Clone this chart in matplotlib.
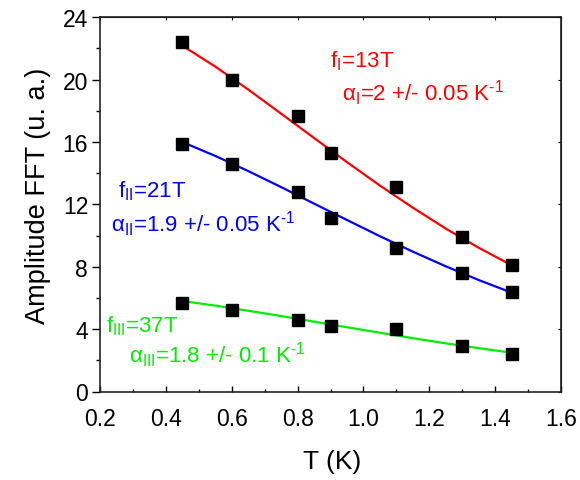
import matplotlib
matplotlib.use("Agg")
import matplotlib.pyplot as plt
from matplotlib.ticker import MultipleLocator

plt.rcParams['font.family'] = ['Liberation Sans', 'DejaVu Sans']
plt.rcParams['mathtext.fontset'] = 'custom'
plt.rcParams['mathtext.rm'] = 'Liberation Sans'
plt.rcParams['mathtext.it'] = 'Liberation Sans'

T = [0.45, 0.6, 0.8, 0.9, 1.1, 1.3, 1.45]
amp_I = [22.4, 20.0, 17.7, 15.3, 13.1, 9.9, 8.1]
amp_II = [15.9, 14.6, 12.8, 11.1, 9.2, 7.6, 6.4]
amp_III = [5.7, 5.2, 4.6, 4.2, 4.0, 2.9, 2.4]

T_fit = [0.45, 0.55, 0.65, 0.75, 0.85, 0.95, 1.05, 1.15, 1.25, 1.35, 1.45]
fit_I = [22.18, 20.84, 19.37, 17.82, 16.26, 14.71, 13.21, 11.79, 10.45, 9.22, 8.10]
fit_II = [16.0, 15.11, 14.14, 13.11, 12.05, 11.00, 9.96, 8.97, 8.03, 7.15, 6.34]
fit_III = [5.80, 5.51, 5.18, 4.84, 4.48, 4.12, 3.77, 3.42, 3.09, 2.78, 2.49]

W, H = 580, 481
fig = plt.figure(figsize=(W/100, H/100), dpi=100)
ax = fig.add_axes([100/W, 1 - 392.5/H, 461/W, (392.5-18.3)/H])

ax.plot(T_fit, fit_I, color='#ff0000', lw=1.6, zorder=2)
ax.plot(T_fit, fit_II, color='#0000ff', lw=1.6, zorder=2)
ax.plot(T_fit, fit_III, color='#00ee00', lw=1.6, zorder=2)
for y in (amp_I, amp_II, amp_III):
    ax.plot(T, y, 's', color='black', ms=9, zorder=3)

ax.set_xlim(0.2, 1.6)
ax.set_ylim(0, 24)
ax.xaxis.set_major_locator(MultipleLocator(0.2))
ax.xaxis.set_minor_locator(MultipleLocator(0.1))
ax.yaxis.set_major_locator(MultipleLocator(4))
ax.yaxis.set_minor_locator(MultipleLocator(2))
ax.set_xticks([0.2, 0.4, 0.6, 0.8, 1.0, 1.2, 1.4, 1.6])
ax.set_xticklabels(['0.2', '0.4', '0.6', '0.8', '1.0', '1.2', '1.4', '1.6'])

ax.tick_params(axis='x', which='major', direction='in', length=4, width=1, labelsize=16.5, pad=11)
ax.tick_params(axis='x', which='minor', direction='in', length=2.5, width=1)
ax.tick_params(axis='y', which='major', direction='out', length=5.5, width=1, labelsize=16.5, pad=3)
ax.tick_params(axis='y', which='minor', direction='out', length=3, width=1)
ax.tick_params(which='both', top=True, right=True)
for s in ax.spines.values():
    s.set_linewidth(1.2)
    s.set_color('#222222')

# tiny mirrored ticks on top/right
sec_x = ax.secondary_xaxis('top')
sec_x.set_xticks([0.2, 0.4, 0.6, 0.8, 1.0, 1.2, 1.4, 1.6])
sec_x.tick_params(direction='in', length=2, labeltop=False)
ax.tick_params(which='both', top=False, right=False)
sec_y = ax.secondary_yaxis('right')
sec_y.set_yticks([0, 4, 8, 12, 16, 20, 24])
sec_y.tick_params(direction='in', length=2, labelright=False)

fig.text(332/W, 1 - 469/H, 'T (K)', fontsize=19, ha='center', va='baseline')
fig.text(38/W, 1 - 196/H, 'Amplitude FFT (u. a.)', fontsize=19.5, rotation=90, ha='center', va='center')

fs = 16
fig.text(330/W, 1 - 67/H, r'f$_{\mathregular{I}}$=13T', color='#ff0000', fontsize=fs)
fig.text(342/W, 1 - 101/H, r'$\mathregular{\alpha_{I}}$=2 +/- 0.05 K$^{\text{-1}}$', color='#ff0000', fontsize=fs)
fig.text(118/W, 1 - 197/H, r'f$_{\mathregular{II}}$=21T', color='#0000ff', fontsize=fs)
fig.text(111/W, 1 - 232/H, r'$\mathregular{\alpha_{II}}$=1.9 +/- 0.05 K$^{\text{-1}}$', color='#0000ff', fontsize=fs)
fig.text(106/W, 1 - 332/H, r'f$_{\mathregular{III}}$=37T', color='#00ee00', fontsize=fs)
fig.text(129/W, 1 - 363/H, r'$\mathregular{\alpha_{III}}$=1.8 +/- 0.1 K$^{\text{-1}}$', color='#00ee00', fontsize=fs)

fig.savefig('out.png', dpi=100)
